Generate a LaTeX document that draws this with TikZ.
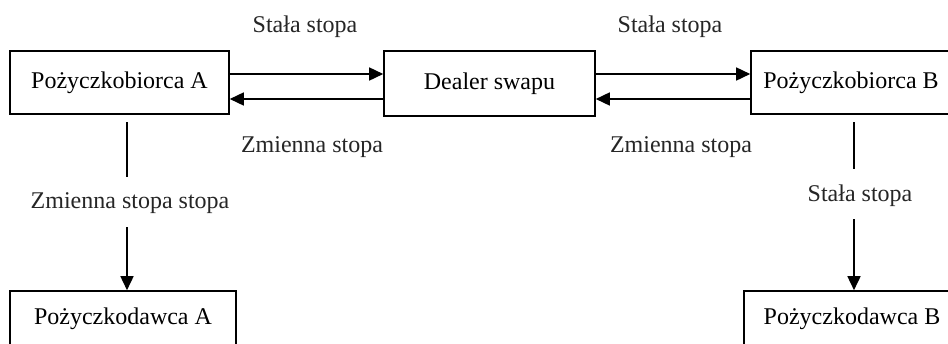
\documentclass[tikz,border=0pt]{standalone}
\usepackage{fontspec}
\setmainfont{Liberation Serif}
\usetikzlibrary{arrows.meta}
\begin{document}
\begin{tikzpicture}[x=0.5pt,y=-0.5pt,
  box/.style={draw,line width=0.8pt,inner sep=0pt,font=\fontsize{12}{14}\selectfont},
  lbl/.style={inner sep=0pt,font=\fontsize{12}{14}\selectfont,text=black!85},
  conn/.style={line width=0.8pt},
  arr/.style={conn,-{Triangle[length=7pt,width=6.5pt]}}]
\useasboundingbox (0,0) rectangle (948,343);
\clip (0,0) rectangle (948,343);
\fill[white] (0,0) rectangle (948,343);
% boxes
\node[box,minimum width=109.5pt,minimum height=31.5pt] (A) at (119.5,82.5) {Pożyczkobiorca A};
\node[box,minimum width=105.5pt,minimum height=32.5pt] (D) at (489.5,83.5) {Dealer swapu};
\node[box,minimum width=100pt,minimum height=31.5pt] (B) at (851,82.5) {Pożyczkobiorca B};
\node[box,minimum width=113pt,minimum height=28pt] (LA) at (123,319) {Pożyczkodawca A};
\node[box,minimum width=108pt,minimum height=28pt] (LB) at (852,319) {Pożyczkodawca B};
% labels
\node[lbl] (s1) at (305,27) {Stała stopa};
\node[lbl] (s2) at (670,27) {Stała stopa};
\node[lbl] (z1) at (312,147) {Zmienna stopa};
\node[lbl] (z2) at (681,147) {Zmienna stopa};
\node[lbl] (zA) at (130,203) {Zmienna stopa stopa};
\node[lbl] (sB) at (860,196) {Stała stopa};
% horizontal connectors
\draw[arr] (A.east |- 0,74) -- (D.west |- 0,74);
\draw[arr] (D.west |- 0,99) -- (A.east |- 0,99);
\draw[arr] (D.east |- 0,74) -- (B.west |- 0,74);
\draw[arr] (B.west |- 0,99) -- (D.east |- 0,99);
% vertical connectors
\coordinate (a1) at (127,122);
\coordinate (a2) at (127,177);
\coordinate (a3) at (127,227);
\draw[conn] (a1) -- (a2);
\draw[arr] (a3) -- (a3 |- LA.north);
\coordinate (b1) at (854,122);
\coordinate (b2) at (854,169);
\coordinate (b3) at (854,219);
\draw[conn] (b1) -- (b2);
\draw[arr] (b3) -- (b3 |- LB.north);
\end{tikzpicture}
\end{document}
